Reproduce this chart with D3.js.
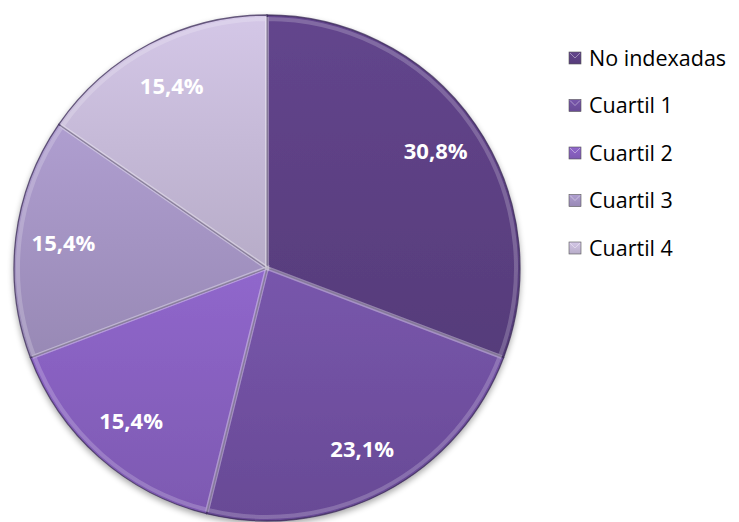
<!DOCTYPE html>
<html>
<head>
<meta charset="UTF-8">
<title>Pie</title>
<script src="https://d3js.org/d3.v7.min.js"></script>
<style>
body { margin: 0; background: #fff; }
svg { display: block; }
.lbl { font-family: "Open Sans", sans-serif; font-weight: bold; font-size: 22px; fill: #fff; }
.leg { font-family: "Open Sans", sans-serif; font-size: 21.5px; fill: #000; }
</style>
</head>
<body>
<svg id="chart" width="739" height="522"></svg>
<script>
var categories = ['No indexadas', 'Cuartil 1', 'Cuartil 2', 'Cuartil 3', 'Cuartil 4'];
var values = [30.8, 23.1, 15.4, 15.4, 15.4];
var labels = ['30,8%', '23,1%', '15,4%', '15,4%', '15,4%'];
var colors = ['#5c4083', '#7050a0', '#8660be', '#a393c2', '#c5b9d7'];

var svg = d3.select('#chart');
var cx = 267, cy = 268, r = 253;

var defs = svg.append('defs');
colors.forEach(function(c, i) {
    var g = defs.append('linearGradient').attr('id', 'g' + i)
        .attr('x1', 0).attr('y1', 0).attr('x2', 0).attr('y2', 1);
    g.append('stop').attr('offset', '0%').attr('stop-color', d3.color(c).brighter(0.2));
    g.append('stop').attr('offset', '100%').attr('stop-color', d3.color(c).darker(0.2));
});
var f = defs.append('filter').attr('id', 'sh').attr('x', '-10%').attr('y', '-10%').attr('width', '120%').attr('height', '120%');
f.append('feGaussianBlur').attr('in', 'SourceAlpha').attr('stdDeviation', 3);
f.append('feOffset').attr('dy', 3).attr('result', 'b');
f.append('feComponentTransfer').append('feFuncA').attr('type', 'linear').attr('slope', 0.35);
var fm = f.append('feMerge');
fm.append('feMergeNode');
fm.append('feMergeNode').attr('in', 'SourceGraphic');

var pie = d3.pie().sort(null).value(function(d) { return d; });
var arcs = pie(values);
var arc = d3.arc().innerRadius(0).outerRadius(r);
var inner = d3.arc().innerRadius(0).outerRadius(r - 4);

var g = svg.append('g').attr('transform', 'translate(' + cx + ',' + cy + ')');
var base = g.append('g').attr('filter', 'url(#sh)');
base.selectAll('path.s').data(arcs).enter().append('path')
    .attr('class', 's')
    .attr('d', arc)
    .attr('fill', function(d, i) { return 'url(#g' + i + ')'; })
    .attr('stroke', '#3a2a55').attr('stroke-opacity', 0.75).attr('stroke-width', 1.3);

// bevel highlight
g.selectAll('path.h').data(arcs).enter().append('path')
    .attr('class', 'h')
    .attr('d', inner)
    .attr('fill', 'none')
    .attr('stroke', '#fff').attr('stroke-opacity', 0.2).attr('stroke-width', 4);

var lab = d3.arc().innerRadius(205).outerRadius(205);
g.selectAll('text.lbl').data(arcs).enter().append('text')
    .attr('class', 'lbl')
    .attr('transform', function(d) { var p = lab.centroid(d); return 'translate(' + p[0] + ',' + p[1] + ')'; })
    .attr('text-anchor', 'middle').attr('dy', '0.35em')
    .text(function(d, i) { return labels[i]; });

var y = d3.scalePoint().domain(categories).range([58, 248]);
var leg = svg.append('g').selectAll('g').data(categories).enter().append('g')
    .attr('transform', function(d) { return 'translate(569,' + y(d) + ')'; });
leg.append('rect').attr('x', 0).attr('y', -6).attr('width', 12).attr('height', 12)
    .attr('fill', function(d, i) { return 'url(#g' + i + ')'; })
    .attr('stroke', '#555').attr('stroke-width', 0.6);
leg.append('path').attr('d', 'M1,-5 L6,0 L11,-5').attr('fill', 'none')
    .attr('stroke', '#fff').attr('stroke-opacity', 0.4).attr('stroke-width', 1);
leg.append('text').attr('class', 'leg').attr('x', 20).attr('dy', '0.35em')
    .text(function(d) { return d; });
</script>
</body>
</html>
